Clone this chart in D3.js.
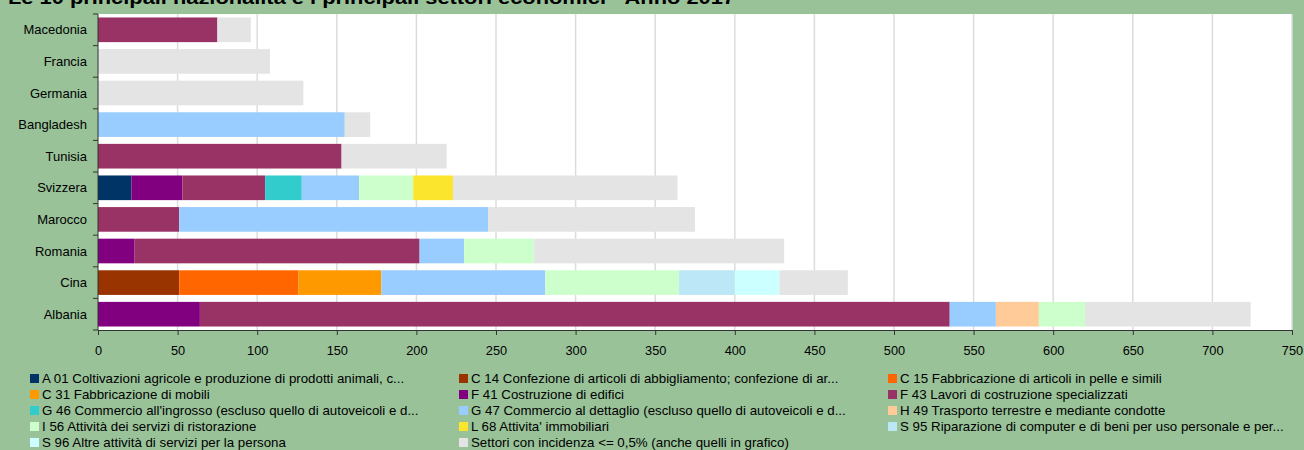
<!DOCTYPE html>
<html>
<head>
<meta charset="utf-8">
<script src="https://cdn.jsdelivr.net/npm/d3@7"></script>
<style>
  body { margin: 0; background: #99c299; }
  #chart { width: 1304px; height: 450px; }
  text { font-family: "Liberation Sans", Arial, sans-serif; fill: #000; }
</style>
</head>
<body>
<div id="chart"></div>
<script>
// nationalities, top to bottom
const countries = ["Macedonia", "Francia", "Germania", "Bangladesh", "Tunisia",
  "Svizzera", "Marocco", "Romania", "Cina", "Albania"];

const sectors = ["A01", "C14", "C15", "C31", "F41", "F43", "G46", "G47", "H49", "I56", "L68", "S95", "S96", "ALTRI"];

const sectorLabels = [
  "A 01 Coltivazioni agricole e produzione di prodotti animali, c...",
  "C 14 Confezione di articoli di abbigliamento; confezione di ar...",
  "C 15 Fabbricazione di articoli in pelle e simili",
  "C 31 Fabbricazione di mobili",
  "F 41 Costruzione di edifici",
  "F 43 Lavori di costruzione specializzati",
  "G 46 Commercio all'ingrosso (escluso quello di autoveicoli e d...",
  "G 47 Commercio al dettaglio (escluso quello di autoveicoli e d...",
  "H 49 Trasporto terrestre e mediante condotte",
  "I 56 Attività dei servizi di ristorazione",
  "L 68 Attivita' immobiliari",
  "S 95 Riparazione di computer e di beni per uso personale e per...",
  "S 96 Altre attività di servizi per la persona",
  "Settori con incidenza <= 0,5% (anche quelli in grafico)"
];

const sectorColors = ["#003366", "#993300", "#ff6600", "#ff9900", "#800080", "#993366",
  "#33cccc", "#99ccff", "#ffcc99", "#ccffcc", "#fce52d", "#bbe7f7", "#ccffff", "#e4e4e4"];

// one value per country (same order as countries), per sector
const A01   = [0, 0, 0, 0, 0, 21, 0, 0, 0, 0];
const C14   = [0, 0, 0, 0, 0, 0, 0, 0, 51, 0];
const C15   = [0, 0, 0, 0, 0, 0, 0, 0, 75, 0];
const C31   = [0, 0, 0, 0, 0, 0, 0, 0, 52, 0];
const F41   = [0, 0, 0, 0, 0, 32, 0, 23, 0, 64];
const F43   = [75, 0, 0, 0, 153, 52, 51, 179, 0, 471];
const G46   = [0, 0, 0, 0, 0, 23, 0, 0, 0, 0];
const G47   = [0, 0, 0, 155, 0, 36, 194, 28, 103, 29];
const H49   = [0, 0, 0, 0, 0, 0, 0, 0, 0, 27];
const I56   = [0, 0, 0, 0, 0, 34, 0, 44, 84, 29];
const L68   = [0, 0, 0, 0, 0, 25, 0, 0, 0, 0];
const S95   = [0, 0, 0, 0, 0, 0, 0, 0, 35, 0];
const S96   = [0, 0, 0, 0, 0, 0, 0, 0, 28, 0];
const ALTRI = [21, 108, 129, 16, 66, 141, 130, 157, 43, 104];

const xTicks = [0, 50, 100, 150, 200, 250, 300, 350, 400, 450, 500, 550, 600, 650, 700, 750];

const title = "Le 10 principali nazionalità e i principali settori economici - Anno 2017";

const seriesValues = [A01, C14, C15, C31, F41, F43, G46, G47, H49, I56, L68, S95, S96, ALTRI];

const rows = countries.map((c, i) => {
  let row = { country: c };
  sectors.forEach((s, j) => { row[s] = seriesValues[j][i]; });
  return row;
});

const width = 1304, height = 450;
const margin = { top: 14, right: 12, bottom: 120, left: 98 };

const svg = d3.select("#chart").append("svg")
  .attr("width", width)
  .attr("height", height);

// title sits partly above the top edge, as in the original
svg.append("text")
  .attr("x", 8)
  .attr("y", 4)
  .attr("font-size", "18px")
  .attr("font-weight", "bold")
  .attr("textLength", 727)
  .attr("lengthAdjust", "spacingAndGlyphs")
  .text(title);

const x = d3.scaleLinear()
  .domain([0, 750])
  .range([margin.left, width - margin.right]);

const y = d3.scaleBand()
  .domain(countries)
  .range([margin.top, height - margin.bottom])
  .paddingInner(0.22)
  .paddingOuter(0.11);

// plot background
svg.append("rect")
  .attr("x", x(0))
  .attr("y", margin.top)
  .attr("width", x(750) - x(0))
  .attr("height", height - margin.bottom - margin.top)
  .attr("fill", "#fff");

svg.append("g")
  .selectAll("line")
  .data(xTicks.slice(1))
  .enter()
  .append("line")
  .attr("x1", d => x(d))
  .attr("x2", d => x(d))
  .attr("y1", margin.top)
  .attr("y2", height - margin.bottom)
  .attr("stroke", "#dcdcdc")
  .attr("stroke-width", 1.5);

const stack = d3.stack().keys(sectors);
const layers = stack(rows);

svg.append("g")
  .selectAll("g")
  .data(layers)
  .enter()
  .append("g")
  .attr("fill", (d, i) => sectorColors[i])
  .selectAll("rect")
  .data(d => d.filter(p => p[1] > p[0]))
  .enter()
  .append("rect")
  .attr("x", d => x(d[0]))
  .attr("y", d => y(d.data.country))
  .attr("width", d => x(d[1]) - x(d[0]))
  .attr("height", y.bandwidth());

// x axis
const xAxis = d3.axisBottom(x)
  .tickValues(xTicks)
  .tickSize(5)
  .tickSizeOuter(0)
  .tickFormat(d3.format("d"));

const gx = svg.append("g")
  .attr("transform", `translate(0, ${height - margin.bottom})`)
  .call(xAxis);
gx.select(".domain").attr("stroke", "#333");
gx.selectAll(".tick line").attr("stroke", "#333");
gx.selectAll(".tick text")
  .attr("y", 16)
  .attr("font-size", "12.8px")
  .attr("font-family", "Liberation Sans, Arial, sans-serif")
  .attr("fill", "#000");

// y axis with ticks at row boundaries
const step = y.step();
svg.append("line")
  .attr("x1", x(0)).attr("x2", x(0))
  .attr("y1", margin.top).attr("y2", height - margin.bottom)
  .attr("stroke", "#333");

svg.append("g")
  .selectAll("line")
  .data(d3.range(countries.length + 1))
  .enter()
  .append("line")
  .attr("x1", x(0) - 5)
  .attr("x2", x(0))
  .attr("y1", i => margin.top + i * step)
  .attr("y2", i => margin.top + i * step)
  .attr("stroke", "#333");

svg.append("g")
  .selectAll("text")
  .data(countries)
  .enter()
  .append("text")
  .attr("x", x(0) - 11)
  .attr("y", d => y(d) + y.bandwidth() / 2)
  .attr("dy", "0.35em")
  .attr("text-anchor", "end")
  .attr("font-size", "13px")
  .text(d => d);

// legend, 3 columns row by row
const colX = [30, 459, 888];
const legend = svg.append("g")
  .selectAll("g")
  .data(sectorLabels)
  .enter()
  .append("g")
  .attr("transform", (d, i) => `translate(${colX[i % 3]}, ${378 + Math.floor(i / 3) * 16})`);

legend.append("rect")
  .attr("x", 0)
  .attr("y", -4)
  .attr("width", 9)
  .attr("height", 9)
  .attr("fill", (d, i) => sectorColors[i]);

legend.append("text")
  .attr("x", 12)
  .attr("y", 0)
  .attr("dy", "0.35em")
  .attr("font-size", "13.3px")
  .text(d => d);
</script>
</body>
</html>
